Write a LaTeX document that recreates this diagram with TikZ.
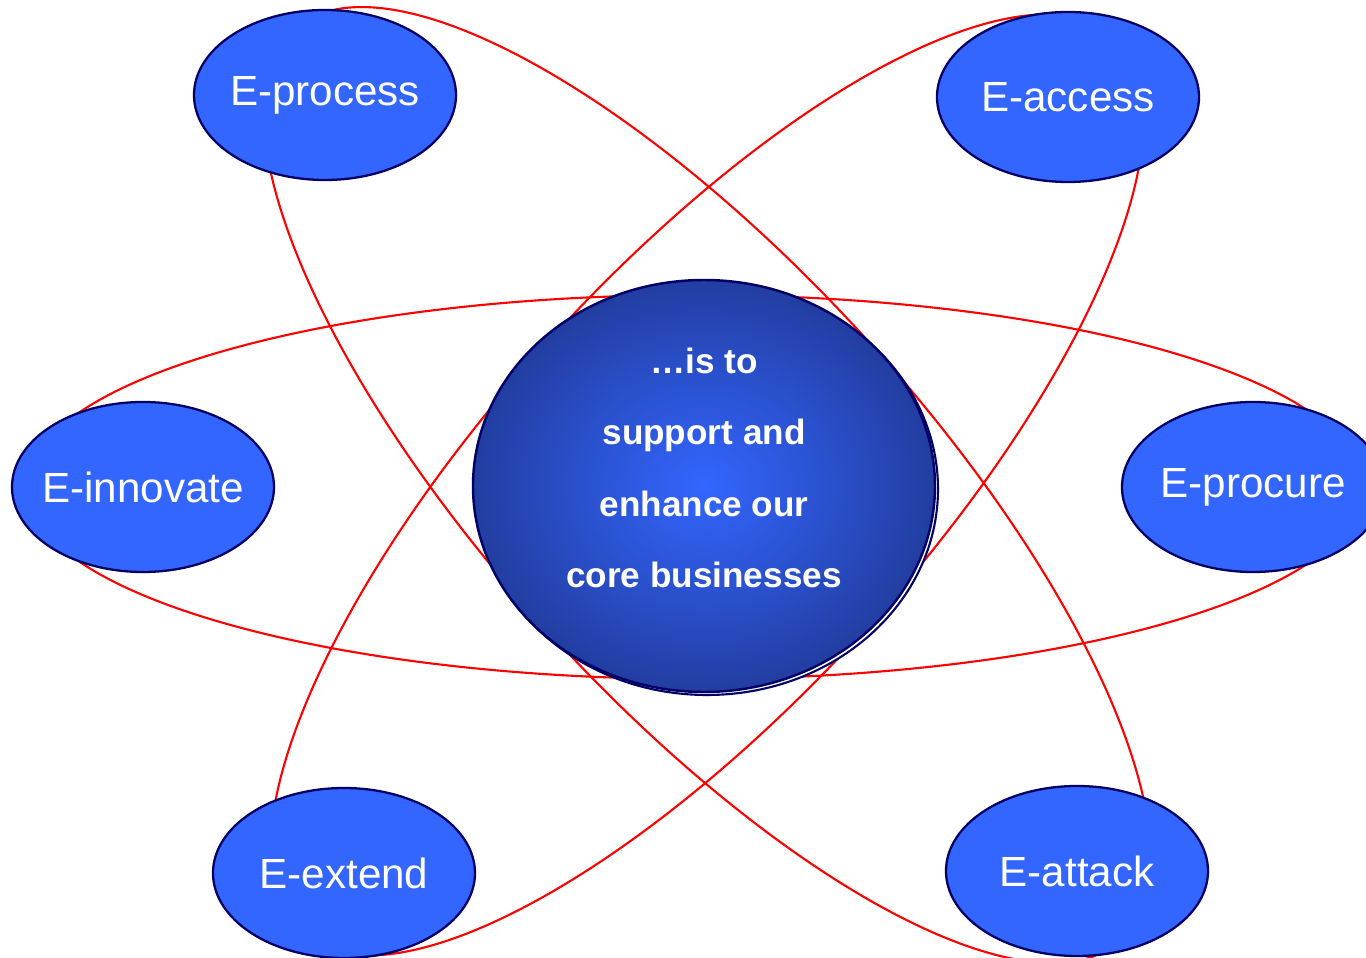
\documentclass[tikz,border=0pt]{standalone}
\usepackage{fontspec}
\setmainfont{Liberation Sans}
\usepackage{tikz}
\usetikzlibrary{shapes.geometric}

\definecolor{satblue}{RGB}{51,102,255}
\definecolor{rimnavy}{RGB}{0,0,102}
\definecolor{hubinner}{RGB}{51,102,255}
\definecolor{hubouter}{RGB}{27,44,120}
\pgfdeclareradialshading{hubglow}{\pgfpoint{0bp}{0bp}}{color(0bp)=(hubinner); color(36bp)=(hubouter); color(50bp)=(hubouter)}

\begin{document}
\begin{tikzpicture}[
        orbit/.style={red, line width=1.2pt},
        satellite/.style={ellipse, draw=rimnavy, line width=1.3pt, fill=satblue, minimum width=5.24cm, minimum height=3.4cm, inner xsep=-0.5cm, inner ysep=0pt, text=white, font=\fontsize{24}{28}\selectfont},
        hub/.style={ellipse, draw=rimnavy, line width=1.4pt, shading=hubglow, minimum width=9.24cm, minimum height=8.24cm, inner sep=0pt}]
            \useasboundingbox (0,0) rectangle (27.32,19.16);
            \coordinate (core) at (14.14,9.46);

            % three orbits round the centre
            \draw[orbit] (13.9,9.42) ellipse (13.36 and 3.84);
            \draw[orbit, rotate around={-47.75:(core)}] (core) ellipse (12.3 and 4.32);
            \draw[orbit, rotate around={47.75:(core)}] (core) ellipse (12.1 and 4.28);

            % centre disc, with a rim set a little down and right
            \draw[rimnavy, line width=1.2pt, fill=white] (14.14,9.38) ellipse (4.62 and 4.12);
            \node[hub] (hubdisc) at (14.08,9.44) {};
            \node[text=white, font=\bfseries\fontsize{20}{40.5}\selectfont, align=center] (motto) at (14.08,9.8) {…is to\\support and\\enhance our\\core businesses};

            \node[satellite] (process) at (6.5,17.26) {E-process};
            \node[satellite] (access) at (21.36,17.22) {E-access};
            \node[satellite] (innovate) at (2.86,9.42) {E-innovate};
            \node[satellite] (procure) at (25.06,9.42) {E-procure};
            \node[satellite] (extend) at (6.88,1.7) {E-extend};
            \node[satellite] (attack) at (21.54,1.74) {E-attack};
        \end{tikzpicture}
\end{document}
